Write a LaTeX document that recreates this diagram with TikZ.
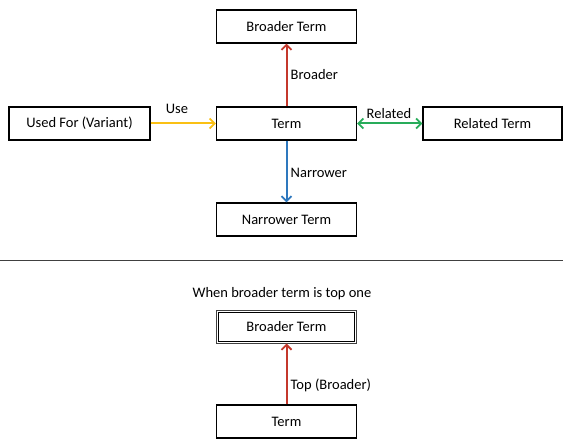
\documentclass[tikz,border=0pt]{standalone}
\usepackage{fontspec}
\setmainfont{Carlito}
\usetikzlibrary{arrows.meta}
\definecolor{cred}{RGB}{196,56,44}
\definecolor{cyellow}{RGB}{250,192,20}
\definecolor{cgreen}{RGB}{40,172,90}
\definecolor{cblue}{RGB}{46,120,190}
\tikzset{
  termbox/.style={draw=black, line width=1.3pt, fill=white, minimum width=140pt, minimum height=33pt, inner sep=0pt, font=\fontsize{14.5}{17}\selectfont},
  topbox/.style={termbox, line width=1pt, draw=black!75},
  innerline/.style={draw=black, line width=1pt},
  lbl/.style={font=\fontsize{14.5}{17}\selectfont, inner sep=0pt},
  tip/.style={Straight Barb[length=5pt,width=10pt,line width=1.8pt]},
  conn/.style={line width=2pt, -{Straight Barb[length=5pt,width=10pt,line width=1.8pt]}},
}
\begin{document}
\begin{tikzpicture}[x={(1pt,0)}, y={(0,-1pt)}]
\useasboundingbox (0,0) rectangle (563,441);
% upper diagram
\node[termbox] (broader) at (286.5,26.5) {Broader Term};
\node[termbox] (term) at (286.5,123.5) {Term};
\node[termbox, minimum width=141pt] (used) at (79.5,123.5) {Used For (Variant)};
\node[termbox, minimum width=139pt] (related) at (492.5,123.5) {Related Term};
\node[termbox] (narrower) at (286.5,219.5) {Narrower Term};
\draw[conn, cred] (term.north) -- (broader.south);
\draw[conn, cyellow] (used.east) -- (term.west);
\draw[line width=2pt, cgreen, {Straight Barb[length=5pt,width=10pt,line width=1.8pt]}-{Straight Barb[length=5pt,width=10pt,line width=1.8pt]}] (term.east) -- (related.west);
\draw[conn, cblue] (term.south) -- (narrower.north);
\node[lbl, anchor=west] (lbroader) at (290.5,75) {Broader};
\node[lbl] (luse) at (177,109) {Use};
\node[lbl] (lrelated) at (389,114) {Related};
\node[lbl, anchor=west] (lnarrower) at (290.5,173) {Narrower};
% separator
\coordinate (sepl) at (0,261);
\coordinate (sepr) at (563,261);
\draw[line width=1pt, black!75] (sepl) -- (sepr);
% lower diagram
\node[lbl] (caption) at (282,294) {When broader term is top one};
\node[topbox] (broader2) at (286.5,326.5) {Broader Term};
\draw[innerline] ([shift={(2.5pt,-2.5pt)}]broader2.north west) rectangle ([shift={(-2.5pt,2.5pt)}]broader2.south east);
\node[termbox] (term2) at (286.5,421.5) {Term};
\draw[conn, cred] (term2.north) -- (broader2.south);
\node[lbl, anchor=west] (ltop) at (290.5,385) {Top (Broader)};
\end{tikzpicture}
\end{document}
